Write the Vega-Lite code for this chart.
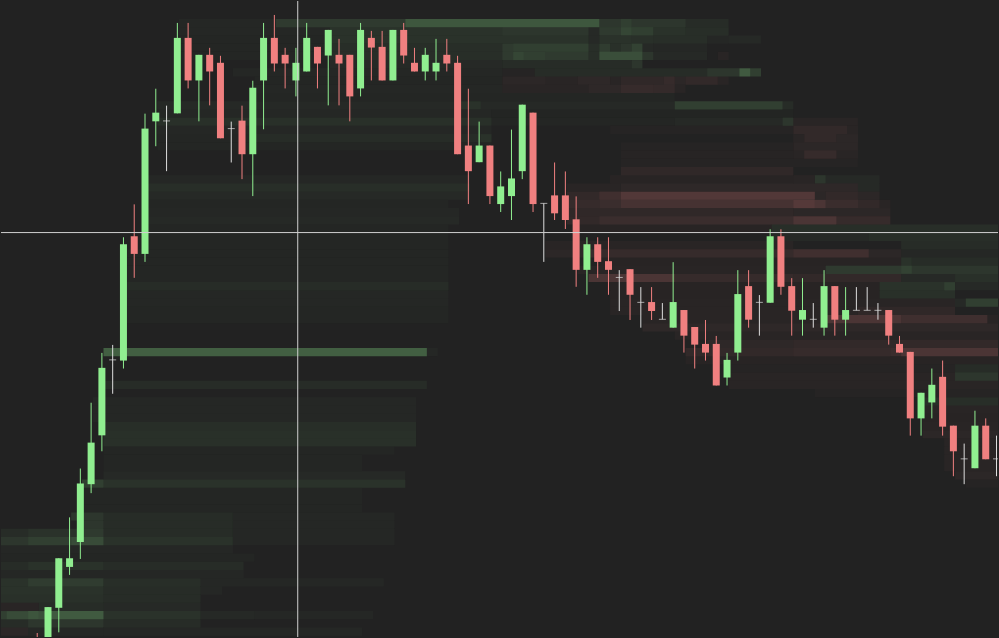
{
  "$schema": "https://vega.github.io/schema/vega-lite/v6.json",
  "width": 999,
  "height": 638,
  "autosize": {"type": "fit", "contains": "padding"},
  "padding": 0,
  "background": "#222222",
  "config": {"view": {"stroke": null}},
  "datasets": {
    "candles": [
      {"i":0,"o":360,"h":366,"l":330,"c":340,"dir":"down"},
      {"i":1,"o":350,"h":392,"l":344,"c":392,"dir":"up"},
      {"i":2,"o":391.3,"h":441,"l":366.7,"c":441,"dir":"up"},
      {"i":3,"o":432.3,"h":482,"l":424.3,"c":441,"dir":"up"},
      {"i":4,"o":457.3,"h":531,"l":440.3,"c":516,"dir":"up"},
      {"i":5,"o":515.3,"h":597,"l":506.3,"c":557,"dir":"up"},
      {"i":6,"o":564.3,"h":647,"l":548.3,"c":632,"dir":"up"},
      {"i":7,"o":640,"h":655,"l":606,"c":640,"dir":"flat"},
      {"i":8,"o":639.3,"h":763,"l":631.3,"c":756,"dir":"up"},
      {"i":9,"o":764,"h":796,"l":722.3,"c":746.3,"dir":"down"},
      {"i":10,"o":746.3,"h":887,"l":738.3,"c":872,"dir":"up"},
      {"i":11,"o":879.3,"h":912,"l":854.3,"c":888,"dir":"up"},
      {"i":12,"o":879.7,"h":895,"l":829.3,"c":879.7,"dir":"flat"},
      {"i":13,"o":887.3,"h":978,"l":887.3,"c":963,"dir":"up"},
      {"i":14,"o":963,"h":978,"l":912.3,"c":920.3,"dir":"down"},
      {"i":15,"o":920.3,"h":946,"l":879.3,"c":946,"dir":"up"},
      {"i":16,"o":946,"h":953,"l":895.3,"c":929.3,"dir":"down"},
      {"i":17,"o":938,"h":945,"l":862.3,"c":862.3,"dir":"down"},
      {"i":18,"o":872,"h":879,"l":838,"c":872,"dir":"flat"},
      {"i":19,"o":880,"h":895,"l":821.3,"c":846.3,"dir":"down"},
      {"i":20,"o":846.3,"h":920,"l":804.3,"c":913,"dir":"up"},
      {"i":21,"o":920.3,"h":978,"l":871.3,"c":963,"dir":"up"},
      {"i":22,"o":963,"h":986,"l":929.3,"c":937.3,"dir":"down"},
      {"i":23,"o":946,"h":953,"l":912.3,"c":937.3,"dir":"down"},
      {"i":24,"o":920.3,"h":953,"l":904.3,"c":938,"dir":"up"},
      {"i":25,"o":929.3,"h":978,"l":929.3,"c":963,"dir":"up"},
      {"i":26,"o":954,"h":954,"l":912.3,"c":937.3,"dir":"down"},
      {"i":27,"o":945.3,"h":971,"l":895.3,"c":971,"dir":"up"},
      {"i":28,"o":946,"h":962,"l":895.3,"c":937.3,"dir":"down"},
      {"i":29,"o":946,"h":946,"l":879.3,"c":904.3,"dir":"down"},
      {"i":30,"o":912.3,"h":978,"l":904.3,"c":971,"dir":"up"},
      {"i":31,"o":963,"h":970,"l":920.3,"c":953.3,"dir":"down"},
      {"i":32,"o":954,"h":970,"l":920.3,"c":920.3,"dir":"down"},
      {"i":33,"o":920.3,"h":971,"l":920.3,"c":971,"dir":"up"},
      {"i":34,"o":971,"h":978,"l":937.3,"c":945.3,"dir":"down"},
      {"i":35,"o":938,"h":953,"l":929.3,"c":929.3,"dir":"down"},
      {"i":36,"o":929.3,"h":953,"l":920.3,"c":946,"dir":"up"},
      {"i":37,"o":929.3,"h":962,"l":920.3,"c":938,"dir":"up"},
      {"i":38,"o":946,"h":962,"l":929.3,"c":937.3,"dir":"down"},
      {"i":39,"o":938,"h":945,"l":846.3,"c":846.3,"dir":"down"},
      {"i":40,"o":855,"h":912,"l":796.3,"c":829.3,"dir":"down"},
      {"i":41,"o":838.3,"h":879,"l":838.3,"c":855,"dir":"up"},
      {"i":42,"o":855,"h":855,"l":796.3,"c":804.3,"dir":"down"},
      {"i":43,"o":796.3,"h":829,"l":788.3,"c":814,"dir":"up"},
      {"i":44,"o":804.3,"h":871,"l":780.3,"c":822,"dir":"up"},
      {"i":45,"o":829.3,"h":896,"l":821.3,"c":896,"dir":"up"},
      {"i":46,"o":888,"h":888,"l":788.3,"c":796.3,"dir":"down"},
      {"i":47,"o":797,"h":797,"l":738.3,"c":797,"dir":"flat"},
      {"i":48,"o":805,"h":838,"l":780.3,"c":787,"dir":"down"},
      {"i":49,"o":805,"h":829,"l":771.3,"c":780.3,"dir":"down"},
      {"i":50,"o":781,"h":804,"l":713.3,"c":730.3,"dir":"down"},
      {"i":51,"o":730.3,"h":763,"l":705.3,"c":756,"dir":"up"},
      {"i":52,"o":756,"h":763,"l":722.3,"c":738.3,"dir":"down"},
      {"i":53,"o":739,"h":763,"l":705.3,"c":730.3,"dir":"down"},
      {"i":54,"o":722.7,"h":730,"l":689,"c":722.7,"dir":"flat"},
      {"i":55,"o":731,"h":731,"l":680,"c":705.3,"dir":"down"},
      {"i":56,"o":697.7,"h":713,"l":672.3,"c":697.7,"dir":"flat"},
      {"i":57,"o":698,"h":713,"l":680,"c":689,"dir":"down"},
      {"i":58,"o":680.7,"h":697,"l":680.7,"c":680.7,"dir":"flat"},
      {"i":59,"o":672.3,"h":738,"l":672.3,"c":698,"dir":"up"},
      {"i":60,"o":690,"h":690,"l":647.3,"c":664.3,"dir":"down"},
      {"i":61,"o":673,"h":673,"l":631.3,"c":655.3,"dir":"down"},
      {"i":62,"o":656,"h":680,"l":639.3,"c":647.3,"dir":"down"},
      {"i":63,"o":656,"h":664,"l":614.3,"c":614.3,"dir":"down"},
      {"i":64,"o":622.3,"h":647,"l":614.3,"c":640,"dir":"up"},
      {"i":65,"o":647.3,"h":730,"l":639.3,"c":706,"dir":"up"},
      {"i":66,"o":714,"h":730,"l":672.3,"c":680.3,"dir":"down"},
      {"i":67,"o":697.7,"h":705,"l":664.3,"c":697.7,"dir":"flat"},
      {"i":68,"o":697.3,"h":771,"l":697.3,"c":764,"dir":"up"},
      {"i":69,"o":764,"h":771,"l":705.3,"c":713.3,"dir":"down"},
      {"i":70,"o":714,"h":722,"l":664.3,"c":689.3,"dir":"down"},
      {"i":71,"o":680.3,"h":722,"l":664.3,"c":690,"dir":"up"},
      {"i":72,"o":680.7,"h":697,"l":672.3,"c":680.7,"dir":"flat"},
      {"i":73,"o":672.3,"h":730,"l":664.3,"c":714,"dir":"up"},
      {"i":74,"o":714,"h":714,"l":664.3,"c":680.3,"dir":"down"},
      {"i":75,"o":680.3,"h":713,"l":664.3,"c":690,"dir":"up"},
      {"i":76,"o":689.7,"h":713,"l":689.7,"c":689.7,"dir":"flat"},
      {"i":77,"o":689.7,"h":713,"l":689.7,"c":689.7,"dir":"flat"},
      {"i":78,"o":689.7,"h":697,"l":680.3,"c":689.7,"dir":"flat"},
      {"i":79,"o":690,"h":690,"l":655.3,"c":664.3,"dir":"down"},
      {"i":80,"o":656,"h":664,"l":647.3,"c":647.3,"dir":"down"},
      {"i":81,"o":648,"h":648,"l":564,"c":581.3,"dir":"down"},
      {"i":82,"o":581.3,"h":607,"l":564,"c":607,"dir":"up"},
      {"i":83,"o":597.3,"h":631.3,"l":581.3,"c":615,"dir":"up"},
      {"i":84,"o":623,"h":639.3,"l":564,"c":573,"dir":"down"},
      {"i":85,"o":574,"h":574,"l":523.3,"c":548.3,"dir":"down"},
      {"i":86,"o":540.7,"h":556,"l":515.3,"c":540.7,"dir":"flat"},
      {"i":87,"o":531.3,"h":589,"l":531.3,"c":574,"dir":"up"},
      {"i":88,"o":574,"h":581.3,"l":540.3,"c":540.3,"dir":"down"},
      {"i":89,"o":540.7,"h":564,"l":523.3,"c":540.7,"dir":"flat"}
    ],
    "heat": [
      {"t0":13.15,"t1":22.15,"p0":973.75,"p1":982,"side":"bid","depth":3},
      {"t0":22.15,"t1":34.15,"p0":973.75,"p1":982,"side":"bid","depth":12},
      {"t0":34.15,"t1":52.15,"p0":973.75,"p1":982,"side":"bid","depth":26},
      {"t0":52.15,"t1":54.15,"p0":973.75,"p1":982,"side":"bid","depth":10},
      {"t0":54.15,"t1":55.15,"p0":973.75,"p1":982,"side":"bid","depth":15},
      {"t0":55.15,"t1":60.15,"p0":973.75,"p1":982,"side":"bid","depth":10},
      {"t0":60.15,"t1":64.15,"p0":973.75,"p1":982,"side":"bid","depth":5},

      {"t0":13.15,"t1":27.15,"p0":965.5,"p1":973.75,"side":"bid","depth":3},
      {"t0":27.15,"t1":43.15,"p0":965.5,"p1":973.75,"side":"bid","depth":8},
      {"t0":43.15,"t1":51.15,"p0":965.5,"p1":973.75,"side":"bid","depth":10},
      {"t0":51.15,"t1":52.15,"p0":965.5,"p1":973.75,"side":"bid","depth":4},
      {"t0":52.15,"t1":54.15,"p0":965.5,"p1":973.75,"side":"bid","depth":12},
      {"t0":54.15,"t1":55.15,"p0":965.5,"p1":973.75,"side":"bid","depth":18},
      {"t0":55.15,"t1":57.15,"p0":965.5,"p1":973.75,"side":"bid","depth":14},
      {"t0":57.15,"t1":60.15,"p0":965.5,"p1":973.75,"side":"bid","depth":8},
      {"t0":60.15,"t1":64.15,"p0":965.5,"p1":973.75,"side":"bid","depth":6},

      {"t0":13.15,"t1":27.15,"p0":957.25,"p1":965.5,"side":"bid","depth":2},
      {"t0":27.15,"t1":51.15,"p0":957.25,"p1":965.5,"side":"bid","depth":8},
      {"t0":51.15,"t1":52.15,"p0":957.25,"p1":965.5,"side":"bid","depth":4},
      {"t0":52.15,"t1":55.15,"p0":957.25,"p1":965.5,"side":"bid","depth":8},
      {"t0":55.15,"t1":57.15,"p0":957.25,"p1":965.5,"side":"bid","depth":7},
      {"t0":57.15,"t1":62.15,"p0":957.25,"p1":965.5,"side":"bid","depth":6},
      {"t0":62.15,"t1":64.15,"p0":957.25,"p1":965.5,"side":"bid","depth":3},
      {"t0":64.15,"t1":67.15,"p0":957.25,"p1":965.5,"side":"bid","depth":4},

      {"t0":13.15,"t1":27.15,"p0":949,"p1":957.25,"side":"bid","depth":2},
      {"t0":27.15,"t1":43.15,"p0":949,"p1":957.25,"side":"bid","depth":6},
      {"t0":43.15,"t1":44.15,"p0":949,"p1":957.25,"side":"bid","depth":12},
      {"t0":44.15,"t1":51.15,"p0":949,"p1":957.25,"side":"bid","depth":15},
      {"t0":51.15,"t1":52.15,"p0":949,"p1":957.25,"side":"bid","depth":6},
      {"t0":52.15,"t1":53.15,"p0":949,"p1":957.25,"side":"bid","depth":13},
      {"t0":53.15,"t1":54.15,"p0":949,"p1":957.25,"side":"bid","depth":7},
      {"t0":54.15,"t1":55.15,"p0":949,"p1":957.25,"side":"bid","depth":10},
      {"t0":55.15,"t1":56.15,"p0":949,"p1":957.25,"side":"bid","depth":16},
      {"t0":56.15,"t1":57.15,"p0":949,"p1":957.25,"side":"bid","depth":4},
      {"t0":57.15,"t1":62.15,"p0":949,"p1":957.25,"side":"bid","depth":3},

      {"t0":13.15,"t1":27.15,"p0":940.75,"p1":949,"side":"bid","depth":2},
      {"t0":27.15,"t1":43.15,"p0":940.75,"p1":949,"side":"bid","depth":6},
      {"t0":43.15,"t1":44.15,"p0":940.75,"p1":949,"side":"bid","depth":12},
      {"t0":44.15,"t1":45.15,"p0":940.75,"p1":949,"side":"bid","depth":18},
      {"t0":45.15,"t1":47.15,"p0":940.75,"p1":949,"side":"bid","depth":14},
      {"t0":47.15,"t1":51.15,"p0":940.75,"p1":949,"side":"bid","depth":12},
      {"t0":51.15,"t1":52.15,"p0":940.75,"p1":949,"side":"bid","depth":6},
      {"t0":52.15,"t1":56.15,"p0":940.75,"p1":949,"side":"bid","depth":22},
      {"t0":56.15,"t1":57.15,"p0":940.75,"p1":949,"side":"bid","depth":10},
      {"t0":57.15,"t1":62.15,"p0":940.75,"p1":949,"side":"bid","depth":4},
      {"t0":63.15,"t1":64.15,"p0":940.75,"p1":949,"side":"ask","depth":4},

      {"t0":27.15,"t1":43.15,"p0":932.5,"p1":940.75,"side":"bid","depth":4},
      {"t0":43.15,"t1":55.15,"p0":932.5,"p1":940.75,"side":"bid","depth":5},
      {"t0":55.15,"t1":56.15,"p0":932.5,"p1":940.75,"side":"bid","depth":10},

      {"t0":18.15,"t1":43.15,"p0":924.25,"p1":932.5,"side":"bid","depth":3},
      {"t0":43.15,"t1":46.15,"p0":924.25,"p1":932.5,"side":"ask","depth":2},
      {"t0":46.15,"t1":62.15,"p0":924.25,"p1":932.5,"side":"bid","depth":5},
      {"t0":62.15,"t1":65.15,"p0":924.25,"p1":932.5,"side":"bid","depth":10},
      {"t0":65.15,"t1":66.15,"p0":924.25,"p1":932.5,"side":"bid","depth":28},
      {"t0":66.15,"t1":67.15,"p0":924.25,"p1":932.5,"side":"bid","depth":15},

      {"t0":20.15,"t1":43.15,"p0":916,"p1":924.25,"side":"bid","depth":2},
      {"t0":43.15,"t1":47.15,"p0":916,"p1":924.25,"side":"ask","depth":5},
      {"t0":47.15,"t1":50.15,"p0":916,"p1":924.25,"side":"ask","depth":4},
      {"t0":50.15,"t1":53.15,"p0":916,"p1":924.25,"side":"ask","depth":6},
      {"t0":53.15,"t1":54.15,"p0":916,"p1":924.25,"side":"ask","depth":4},
      {"t0":54.15,"t1":58.15,"p0":916,"p1":924.25,"side":"ask","depth":7},
      {"t0":58.15,"t1":59.15,"p0":916,"p1":924.25,"side":"ask","depth":10},
      {"t0":59.15,"t1":60.15,"p0":916,"p1":924.25,"side":"ask","depth":5},
      {"t0":60.15,"t1":63.15,"p0":916,"p1":924.25,"side":"ask","depth":8},
      {"t0":63.15,"t1":64.15,"p0":916,"p1":924.25,"side":"ask","depth":4},

      {"t0":20.15,"t1":43.15,"p0":907.75,"p1":916,"side":"bid","depth":3},
      {"t0":43.15,"t1":51.15,"p0":907.75,"p1":916,"side":"ask","depth":4},
      {"t0":51.15,"t1":54.15,"p0":907.75,"p1":916,"side":"ask","depth":6},
      {"t0":54.15,"t1":57.15,"p0":907.75,"p1":916,"side":"ask","depth":10},
      {"t0":57.15,"t1":59.15,"p0":907.75,"p1":916,"side":"ask","depth":9},
      {"t0":59.15,"t1":60.15,"p0":907.75,"p1":916,"side":"ask","depth":4},

      {"t0":20.15,"t1":59.15,"p0":899.5,"p1":907.75,"side":"bid","depth":2},

      {"t0":11.15,"t1":39.15,"p0":891.25,"p1":899.5,"side":"bid","depth":4},
      {"t0":39.15,"t1":41.15,"p0":891.25,"p1":899.5,"side":"bid","depth":8},
      {"t0":41.15,"t1":59.15,"p0":891.25,"p1":899.5,"side":"bid","depth":4},
      {"t0":59.15,"t1":69.15,"p0":891.25,"p1":899.5,"side":"bid","depth":14},
      {"t0":69.15,"t1":70.15,"p0":891.25,"p1":899.5,"side":"bid","depth":5},

      {"t0":11.15,"t1":42.15,"p0":883,"p1":891.25,"side":"bid","depth":3},
      {"t0":42.15,"t1":70.15,"p0":883,"p1":891.25,"side":"bid","depth":1.5},

      {"t0":11.15,"t1":42.15,"p0":874.75,"p1":883,"side":"bid","depth":7},
      {"t0":42.15,"t1":59.15,"p0":874.75,"p1":883,"side":"bid","depth":2},
      {"t0":59.15,"t1":69.15,"p0":874.75,"p1":883,"side":"bid","depth":4},
      {"t0":69.15,"t1":70.15,"p0":874.75,"p1":883,"side":"bid","depth":10},
      {"t0":70.15,"t1":76.15,"p0":874.75,"p1":883,"side":"ask","depth":4},

      {"t0":11.15,"t1":42.15,"p0":866.5,"p1":874.75,"side":"bid","depth":3},
      {"t0":53.15,"t1":70.15,"p0":866.5,"p1":874.75,"side":"ask","depth":2},
      {"t0":70.15,"t1":75.15,"p0":866.5,"p1":874.75,"side":"ask","depth":8},
      {"t0":75.15,"t1":76.15,"p0":866.5,"p1":874.75,"side":"ask","depth":4},

      {"t0":11.15,"t1":20.15,"p0":858.25,"p1":866.5,"side":"bid","depth":2},
      {"t0":20.15,"t1":41.15,"p0":858.25,"p1":866.5,"side":"bid","depth":5},
      {"t0":41.15,"t1":42.15,"p0":858.25,"p1":866.5,"side":"bid","depth":8},
      {"t0":70.15,"t1":71.15,"p0":858.25,"p1":866.5,"side":"ask","depth":4},
      {"t0":71.15,"t1":74.15,"p0":858.25,"p1":866.5,"side":"ask","depth":8},
      {"t0":74.15,"t1":76.15,"p0":858.25,"p1":866.5,"side":"ask","depth":5},

      {"t0":11.15,"t1":42.15,"p0":850,"p1":858.25,"side":"bid","depth":2},
      {"t0":54.15,"t1":70.15,"p0":850,"p1":858.25,"side":"ask","depth":2},
      {"t0":70.15,"t1":76.15,"p0":850,"p1":858.25,"side":"ask","depth":5},

      {"t0":54.15,"t1":70.15,"p0":841.75,"p1":850,"side":"ask","depth":2.5},
      {"t0":70.15,"t1":71.15,"p0":841.75,"p1":850,"side":"ask","depth":4},
      {"t0":71.15,"t1":74.15,"p0":841.75,"p1":850,"side":"ask","depth":10},
      {"t0":74.15,"t1":76.15,"p0":841.75,"p1":850,"side":"ask","depth":4},

      {"t0":54.15,"t1":76.15,"p0":833.5,"p1":841.75,"side":"ask","depth":2},

      {"t0":54.15,"t1":70.15,"p0":825.25,"p1":833.5,"side":"ask","depth":7},

      {"t0":10.15,"t1":40.15,"p0":817,"p1":825.25,"side":"bid","depth":3},
      {"t0":53.15,"t1":70.15,"p0":817,"p1":825.25,"side":"ask","depth":3},
      {"t0":70.15,"t1":72.15,"p0":817,"p1":825.25,"side":"ask","depth":4},
      {"t0":72.15,"t1":73.15,"p0":817,"p1":825.25,"side":"bid","depth":10},
      {"t0":73.15,"t1":78.15,"p0":817,"p1":825.25,"side":"bid","depth":4},

      {"t0":10.15,"t1":40.15,"p0":808.75,"p1":817,"side":"bid","depth":6},
      {"t0":49.15,"t1":54.15,"p0":808.75,"p1":817,"side":"ask","depth":4},
      {"t0":54.15,"t1":76.15,"p0":808.75,"p1":817,"side":"ask","depth":6},
      {"t0":76.15,"t1":78.15,"p0":808.75,"p1":817,"side":"bid","depth":4},

      {"t0":10.15,"t1":40.15,"p0":800.5,"p1":808.75,"side":"bid","depth":4},
      {"t0":49.15,"t1":52.15,"p0":800.5,"p1":808.75,"side":"ask","depth":8},
      {"t0":52.15,"t1":54.15,"p0":800.5,"p1":808.75,"side":"ask","depth":15},
      {"t0":54.15,"t1":72.15,"p0":800.5,"p1":808.75,"side":"ask","depth":24},
      {"t0":72.15,"t1":73.15,"p0":800.5,"p1":808.75,"side":"ask","depth":5},
      {"t0":73.15,"t1":76.15,"p0":800.5,"p1":808.75,"side":"ask","depth":8},
      {"t0":76.15,"t1":78.15,"p0":800.5,"p1":808.75,"side":"ask","depth":5},

      {"t0":10.15,"t1":38.15,"p0":792.25,"p1":800.5,"side":"bid","depth":2},
      {"t0":49.15,"t1":52.15,"p0":792.25,"p1":800.5,"side":"ask","depth":10},
      {"t0":52.15,"t1":54.15,"p0":792.25,"p1":800.5,"side":"ask","depth":12},
      {"t0":54.15,"t1":70.15,"p0":792.25,"p1":800.5,"side":"ask","depth":18},
      {"t0":70.15,"t1":72.15,"p0":792.25,"p1":800.5,"side":"ask","depth":25},
      {"t0":72.15,"t1":73.15,"p0":792.25,"p1":800.5,"side":"ask","depth":20},
      {"t0":73.15,"t1":76.15,"p0":792.25,"p1":800.5,"side":"ask","depth":12},
      {"t0":76.15,"t1":78.15,"p0":792.25,"p1":800.5,"side":"ask","depth":8},
      {"t0":78.15,"t1":79.15,"p0":792.25,"p1":800.5,"side":"ask","depth":4},

      {"t0":10.15,"t1":39.15,"p0":784,"p1":792.25,"side":"bid","depth":3},
      {"t0":49.15,"t1":70.15,"p0":784,"p1":792.25,"side":"ask","depth":7},
      {"t0":70.15,"t1":79.15,"p0":784,"p1":792.25,"side":"ask","depth":5},

      {"t0":10.15,"t1":39.15,"p0":775.75,"p1":784,"side":"bid","depth":4},
      {"t0":49.15,"t1":52.15,"p0":775.75,"p1":784,"side":"ask","depth":8},
      {"t0":52.15,"t1":70.15,"p0":775.75,"p1":784,"side":"ask","depth":12},
      {"t0":70.15,"t1":74.15,"p0":775.75,"p1":784,"side":"ask","depth":20},
      {"t0":74.15,"t1":79.15,"p0":775.75,"p1":784,"side":"ask","depth":10},

      {"t0":10.15,"t1":38.15,"p0":767.5,"p1":775.75,"side":"bid","depth":2},
      {"t0":50.15,"t1":68.15,"p0":767.5,"p1":775.75,"side":"ask","depth":3},
      {"t0":68.15,"t1":89.15,"p0":767.5,"p1":775.75,"side":"bid","depth":6},

      {"t0":10.15,"t1":38.15,"p0":759.25,"p1":767.5,"side":"bid","depth":2},
      {"t0":68.15,"t1":77.15,"p0":759.25,"p1":767.5,"side":"bid","depth":4},
      {"t0":77.15,"t1":89.15,"p0":759.25,"p1":767.5,"side":"bid","depth":6},

      {"t0":10.15,"t1":38.15,"p0":751,"p1":759.25,"side":"bid","depth":2},
      {"t0":47.15,"t1":70.15,"p0":751,"p1":759.25,"side":"ask","depth":4},
      {"t0":80.15,"t1":89.15,"p0":751,"p1":759.25,"side":"bid","depth":5},

      {"t0":8.15,"t1":38.15,"p0":742.75,"p1":751,"side":"bid","depth":2},
      {"t0":47.15,"t1":51.15,"p0":742.75,"p1":751,"side":"ask","depth":5},
      {"t0":51.15,"t1":70.15,"p0":742.75,"p1":751,"side":"ask","depth":10},
      {"t0":70.15,"t1":77.15,"p0":742.75,"p1":751,"side":"ask","depth":15},
      {"t0":77.15,"t1":80.15,"p0":742.75,"p1":751,"side":"ask","depth":5},
      {"t0":80.15,"t1":89.15,"p0":742.75,"p1":751,"side":"bid","depth":3},

      {"t0":8.15,"t1":38.15,"p0":734.5,"p1":742.75,"side":"bid","depth":2},
      {"t0":52.15,"t1":80.15,"p0":734.5,"p1":742.75,"side":"ask","depth":3},
      {"t0":80.15,"t1":81.15,"p0":734.5,"p1":742.75,"side":"bid","depth":8},
      {"t0":81.15,"t1":89.15,"p0":734.5,"p1":742.75,"side":"bid","depth":5},

      {"t0":8.15,"t1":38.15,"p0":726.25,"p1":734.5,"side":"bid","depth":2},
      {"t0":50.15,"t1":73.15,"p0":726.25,"p1":734.5,"side":"ask","depth":4},
      {"t0":73.15,"t1":80.15,"p0":726.25,"p1":734.5,"side":"bid","depth":12},
      {"t0":80.15,"t1":81.15,"p0":726.25,"p1":734.5,"side":"bid","depth":16},
      {"t0":81.15,"t1":89.15,"p0":726.25,"p1":734.5,"side":"bid","depth":10},

      {"t0":8.15,"t1":38.15,"p0":718,"p1":726.25,"side":"bid","depth":2},
      {"t0":51.15,"t1":59.15,"p0":718,"p1":726.25,"side":"ask","depth":20},
      {"t0":59.15,"t1":70.15,"p0":718,"p1":726.25,"side":"ask","depth":10},
      {"t0":70.15,"t1":80.15,"p0":718,"p1":726.25,"side":"ask","depth":8},
      {"t0":80.15,"t1":85.15,"p0":718,"p1":726.25,"side":"bid","depth":4},
      {"t0":85.15,"t1":89.15,"p0":718,"p1":726.25,"side":"bid","depth":7},

      {"t0":8.15,"t1":38.15,"p0":709.75,"p1":718,"side":"bid","depth":5},
      {"t0":53.15,"t1":78.15,"p0":709.75,"p1":718,"side":"ask","depth":3},
      {"t0":78.15,"t1":84.15,"p0":709.75,"p1":718,"side":"bid","depth":8},
      {"t0":84.15,"t1":85.15,"p0":709.75,"p1":718,"side":"bid","depth":15},
      {"t0":85.15,"t1":89.15,"p0":709.75,"p1":718,"side":"bid","depth":4},

      {"t0":8.15,"t1":38.15,"p0":701.5,"p1":709.75,"side":"bid","depth":3},
      {"t0":53.15,"t1":78.15,"p0":701.5,"p1":709.75,"side":"ask","depth":3},
      {"t0":78.15,"t1":85.15,"p0":701.5,"p1":709.75,"side":"bid","depth":7},

      {"t0":8.15,"t1":38.15,"p0":693.25,"p1":701.5,"side":"bid","depth":3},
      {"t0":53.15,"t1":85.15,"p0":693.25,"p1":701.5,"side":"ask","depth":4},
      {"t0":85.15,"t1":86.15,"p0":693.25,"p1":701.5,"side":"bid","depth":4},
      {"t0":86.15,"t1":89.15,"p0":693.25,"p1":701.5,"side":"bid","depth":15},

      {"t0":8.15,"t1":38.15,"p0":685,"p1":693.25,"side":"bid","depth":2},
      {"t0":53.15,"t1":76.15,"p0":685,"p1":693.25,"side":"ask","depth":4},
      {"t0":76.15,"t1":85.15,"p0":685,"p1":693.25,"side":"ask","depth":7},

      {"t0":8.15,"t1":38.15,"p0":676.75,"p1":685,"side":"bid","depth":2},
      {"t0":56.15,"t1":73.15,"p0":676.75,"p1":685,"side":"ask","depth":4},
      {"t0":73.15,"t1":80.15,"p0":676.75,"p1":685,"side":"ask","depth":20},
      {"t0":80.15,"t1":88.15,"p0":676.75,"p1":685,"side":"ask","depth":14},
      {"t0":88.15,"t1":89.15,"p0":676.75,"p1":685,"side":"ask","depth":3},

      {"t0":56.15,"t1":89.15,"p0":668.5,"p1":676.75,"side":"ask","depth":6},
      {"t0":59.15,"t1":89.15,"p0":660.25,"p1":668.5,"side":"ask","depth":4},
      {"t0":62.15,"t1":70.15,"p0":652,"p1":660.25,"side":"ask","depth":6},
      {"t0":70.15,"t1":89.15,"p0":652,"p1":660.25,"side":"ask","depth":8},

      {"t0":6.15,"t1":36.15,"p0":643.75,"p1":652,"side":"bid","depth":30},
      {"t0":36.15,"t1":37.15,"p0":643.75,"p1":652,"side":"bid","depth":3},
      {"t0":60.15,"t1":70.15,"p0":643.75,"p1":652,"side":"ask","depth":8},
      {"t0":70.15,"t1":79.15,"p0":643.75,"p1":652,"side":"ask","depth":10},
      {"t0":79.15,"t1":80.15,"p0":643.75,"p1":652,"side":"ask","depth":12},
      {"t0":80.15,"t1":89.15,"p0":643.75,"p1":652,"side":"ask","depth":20},

      {"t0":60.15,"t1":89.15,"p0":635.5,"p1":643.75,"side":"ask","depth":3},
      {"t0":64.15,"t1":85.15,"p0":627.25,"p1":635.5,"side":"ask","depth":2},
      {"t0":85.15,"t1":89.15,"p0":627.25,"p1":635.5,"side":"bid","depth":5},
      {"t0":64.15,"t1":85.15,"p0":619,"p1":627.25,"side":"ask","depth":4},
      {"t0":85.15,"t1":89.15,"p0":619,"p1":627.25,"side":"bid","depth":10},
      {"t0":6.15,"t1":36.15,"p0":610.75,"p1":619,"side":"bid","depth":5},
      {"t0":64.15,"t1":89.15,"p0":610.75,"p1":619,"side":"ask","depth":4},
      {"t0":72.15,"t1":89.15,"p0":602.5,"p1":610.75,"side":"ask","depth":2},
      {"t0":5.15,"t1":35.15,"p0":594.25,"p1":602.5,"side":"bid","depth":3},
      {"t0":82.15,"t1":89.15,"p0":594.25,"p1":602.5,"side":"bid","depth":6},
      {"t0":5.15,"t1":35.15,"p0":586,"p1":594.25,"side":"bid","depth":3},
      {"t0":82.15,"t1":89.15,"p0":586,"p1":594.25,"side":"ask","depth":4},
      {"t0":5.15,"t1":35.15,"p0":577.75,"p1":586,"side":"bid","depth":3},
      {"t0":82.15,"t1":89.15,"p0":577.75,"p1":586,"side":"ask","depth":3},
      {"t0":6.15,"t1":35.15,"p0":569.5,"p1":577.75,"side":"bid","depth":6},
      {"t0":82.15,"t1":89.15,"p0":569.5,"p1":577.75,"side":"ask","depth":4},
      {"t0":6.15,"t1":35.15,"p0":561.25,"p1":569.5,"side":"bid","depth":7},
      {"t0":82.15,"t1":89.15,"p0":561.25,"p1":569.5,"side":"ask","depth":5},
      {"t0":6.15,"t1":35.15,"p0":553,"p1":561.25,"side":"bid","depth":7},
      {"t0":84.15,"t1":89.15,"p0":553,"p1":561.25,"side":"ask","depth":4},
      {"t0":6.15,"t1":33.15,"p0":544.75,"p1":553,"side":"bid","depth":2},
      {"t0":84.15,"t1":89.15,"p0":544.75,"p1":553,"side":"ask","depth":4},
      {"t0":6.15,"t1":30.15,"p0":536.5,"p1":544.75,"side":"bid","depth":2},
      {"t0":84.15,"t1":89.15,"p0":536.5,"p1":544.75,"side":"ask","depth":4},
      {"t0":6.15,"t1":30.15,"p0":528.25,"p1":536.5,"side":"bid","depth":2},
      {"t0":84.15,"t1":89.15,"p0":528.25,"p1":536.5,"side":"ask","depth":4},
      {"t0":6.15,"t1":34.15,"p0":520,"p1":528.25,"side":"bid","depth":4},
      {"t0":85.15,"t1":89.15,"p0":520,"p1":528.25,"side":"ask","depth":5},
      {"t0":4.15,"t1":6.15,"p0":511.75,"p1":520,"side":"bid","depth":15},
      {"t0":6.15,"t1":34.15,"p0":511.75,"p1":520,"side":"bid","depth":8},
      {"t0":86.15,"t1":89.15,"p0":511.75,"p1":520,"side":"ask","depth":2},
      {"t0":4.15,"t1":30.15,"p0":503.5,"p1":511.75,"side":"bid","depth":2},
      {"t0":4.15,"t1":30.15,"p0":495.25,"p1":503.5,"side":"bid","depth":2},
      {"t0":4.15,"t1":30.15,"p0":487,"p1":495.25,"side":"bid","depth":2},

      {"t0":3.15,"t1":6.15,"p0":478.75,"p1":487,"side":"bid","depth":10},
      {"t0":6.15,"t1":18.15,"p0":478.75,"p1":487,"side":"bid","depth":5},
      {"t0":18.15,"t1":33.15,"p0":478.75,"p1":487,"side":"bid","depth":3},
      {"t0":4.15,"t1":6.15,"p0":470.5,"p1":478.75,"side":"bid","depth":10},
      {"t0":6.15,"t1":18.15,"p0":470.5,"p1":478.75,"side":"bid","depth":5},
      {"t0":18.15,"t1":33.15,"p0":470.5,"p1":478.75,"side":"bid","depth":3},
      {"t0":-3.85,"t1":-0.85,"p0":462.25,"p1":470.5,"side":"bid","depth":5},
      {"t0":-0.85,"t1":4.15,"p0":462.25,"p1":470.5,"side":"bid","depth":8},
      {"t0":4.15,"t1":6.15,"p0":462.25,"p1":470.5,"side":"bid","depth":12},
      {"t0":6.15,"t1":18.15,"p0":462.25,"p1":470.5,"side":"bid","depth":5},
      {"t0":18.15,"t1":33.15,"p0":462.25,"p1":470.5,"side":"bid","depth":3},
      {"t0":-3.85,"t1":-0.85,"p0":454,"p1":462.25,"side":"bid","depth":10},
      {"t0":-0.85,"t1":3.15,"p0":454,"p1":462.25,"side":"bid","depth":15},
      {"t0":3.15,"t1":6.15,"p0":454,"p1":462.25,"side":"bid","depth":20},
      {"t0":6.15,"t1":18.15,"p0":454,"p1":462.25,"side":"bid","depth":8},
      {"t0":18.15,"t1":33.15,"p0":454,"p1":462.25,"side":"bid","depth":3},
      {"t0":-3.85,"t1":18.15,"p0":445.75,"p1":454,"side":"bid","depth":3},
      {"t0":-3.85,"t1":20.15,"p0":437.5,"p1":445.75,"side":"bid","depth":2},
      {"t0":-3.85,"t1":-0.85,"p0":429.25,"p1":437.5,"side":"bid","depth":5},
      {"t0":-0.85,"t1":6.15,"p0":429.25,"p1":437.5,"side":"bid","depth":8},
      {"t0":6.15,"t1":19.15,"p0":429.25,"p1":437.5,"side":"bid","depth":5},
      {"t0":-3.85,"t1":19.15,"p0":421,"p1":429.25,"side":"bid","depth":3},
      {"t0":-3.85,"t1":-0.85,"p0":412.75,"p1":421,"side":"bid","depth":8},
      {"t0":-0.85,"t1":6.15,"p0":412.75,"p1":421,"side":"bid","depth":13},
      {"t0":6.15,"t1":15.15,"p0":412.75,"p1":421,"side":"bid","depth":6},
      {"t0":15.15,"t1":32.15,"p0":412.75,"p1":421,"side":"bid","depth":3},
      {"t0":-3.85,"t1":6.15,"p0":404.5,"p1":412.75,"side":"bid","depth":8},
      {"t0":6.15,"t1":15.15,"p0":404.5,"p1":412.75,"side":"bid","depth":5},
      {"t0":15.15,"t1":17.15,"p0":404.5,"p1":412.75,"side":"bid","depth":3},
      {"t0":-3.85,"t1":6.15,"p0":396.25,"p1":404.5,"side":"bid","depth":7},
      {"t0":6.15,"t1":15.15,"p0":396.25,"p1":404.5,"side":"bid","depth":5},
      {"t0":-3.85,"t1":0.15,"p0":388,"p1":396.25,"side":"ask","depth":4},
      {"t0":0.15,"t1":6.15,"p0":388,"p1":396.25,"side":"bid","depth":5},
      {"t0":6.15,"t1":15.15,"p0":388,"p1":396.25,"side":"bid","depth":4},
      {"t0":-3.85,"t1":-2.85,"p0":379.75,"p1":388,"side":"bid","depth":15},
      {"t0":-2.85,"t1":-0.85,"p0":379.75,"p1":388,"side":"bid","depth":20},
      {"t0":-0.85,"t1":0.15,"p0":379.75,"p1":388,"side":"bid","depth":25},
      {"t0":0.15,"t1":1.15,"p0":379.75,"p1":388,"side":"bid","depth":22},
      {"t0":1.15,"t1":6.15,"p0":379.75,"p1":388,"side":"bid","depth":28},
      {"t0":6.15,"t1":15.15,"p0":379.75,"p1":388,"side":"bid","depth":8},
      {"t0":15.15,"t1":20.15,"p0":379.75,"p1":388,"side":"bid","depth":4},
      {"t0":20.15,"t1":31.15,"p0":379.75,"p1":388,"side":"bid","depth":3},
      {"t0":-3.85,"t1":-0.85,"p0":371.5,"p1":379.75,"side":"bid","depth":5},
      {"t0":-0.85,"t1":6.15,"p0":371.5,"p1":379.75,"side":"bid","depth":10},
      {"t0":6.15,"t1":15.15,"p0":371.5,"p1":379.75,"side":"bid","depth":5},
      {"t0":-3.85,"t1":-0.85,"p0":363.25,"p1":371.5,"side":"ask","depth":5},
      {"t0":-0.85,"t1":6.15,"p0":363.25,"p1":371.5,"side":"bid","depth":3},
      {"t0":6.15,"t1":30.15,"p0":363.25,"p1":371.5,"side":"bid","depth":3}
    ],
    "cross": [{"t": 24.17, "p": 767.7}]
  },
  "layer": [
    {
      "data": {"name": "heat"},
      "mark": {"type": "rect", "clip": true},
      "encoding": {
        "x": {"field": "t0", "type": "quantitative", "axis": null, "scale": {"domain": [-3.361, 89.139], "nice": false, "zero": false, "padding": 0}},
        "x2": {"field": "t1"},
        "y": {"field": "p0", "type": "quantitative", "axis": null, "scale": {"domain": [362, 1000], "nice": false, "zero": false, "padding": 0}},
        "y2": {"field": "p1"},
        "fill": {"field": "side", "type": "nominal", "legend": null, "scale": {"domain": ["bid", "ask"], "range": ["#90EE90", "#F08080"]}},
        "opacity": {"field": "depth", "type": "quantitative", "legend": null, "scale": {"domain": [0, 100], "range": [0, 1], "zero": true}}
      }
    },
    {
      "data": {"name": "candles"},
      "mark": {"type": "rule", "strokeWidth": 1, "clip": true},
      "encoding": {
        "x": {"field": "i", "type": "quantitative", "axis": null},
        "y": {"field": "l", "type": "quantitative", "axis": null},
        "y2": {"field": "h"},
        "color": {"field": "dir", "type": "nominal", "legend": null, "scale": {"domain": ["up", "down", "flat"], "range": ["#90EE90", "#F08080", "#dddddd"]}}
      }
    },
    {
      "data": {"name": "candles"},
      "transform": [{"filter": "datum.dir != 'flat'"}],
      "mark": {"type": "bar", "size": 7, "clip": true, "orient": "vertical"},
      "encoding": {
        "x": {"field": "i", "type": "quantitative", "axis": null},
        "y": {"field": "o", "type": "quantitative", "axis": null},
        "y2": {"field": "c"},
        "color": {"field": "dir", "type": "nominal", "legend": null}
      }
    },
    {
      "data": {"name": "candles"},
      "transform": [{"filter": "datum.dir == 'flat'"}],
      "mark": {"type": "tick", "orient": "horizontal", "size": 7, "thickness": 1, "clip": true},
      "encoding": {
        "x": {"field": "i", "type": "quantitative", "axis": null},
        "y": {"field": "o", "type": "quantitative", "axis": null},
        "color": {"field": "dir", "type": "nominal", "legend": null}
      }
    },
    {
      "data": {"name": "cross"},
      "mark": {"type": "rule", "color": "#d0d0d0", "strokeWidth": 1},
      "encoding": {"x": {"field": "t", "type": "quantitative", "axis": null}}
    },
    {
      "data": {"name": "cross"},
      "mark": {"type": "rule", "color": "#d0d0d0", "strokeWidth": 1},
      "encoding": {"y": {"field": "p", "type": "quantitative", "axis": null}}
    }
  ]
}
